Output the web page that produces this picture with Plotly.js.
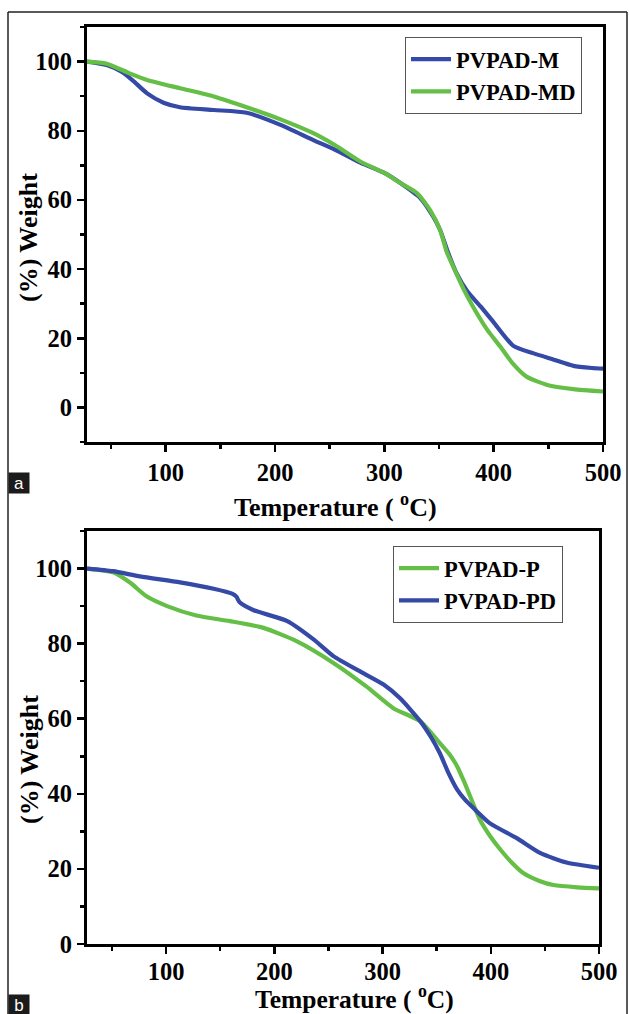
<!DOCTYPE html>
<html>
<head>
<meta charset="utf-8">
<script src="https://cdn.plot.ly/plotly-3.0.1.min.js"></script>
<style>html,body{margin:0;padding:0;background:#fff;}#chart{width:629px;height:1014px;}</style>
</head>
<body>
<div id="chart"></div>
<script>
// Panel a
const tM  = [28, 46, 60, 70, 83, 98, 113, 144, 174, 205, 235, 255, 278, 300, 315, 333, 345, 351, 358, 366, 376, 388, 400, 418, 436, 455, 473, 490, 500];
const wM  = [100, 99, 97, 94.5, 90.8, 88.1, 86.8, 86.0, 85.2, 81.7, 77.3, 74.5, 70.8, 67.8, 64.8, 60.5, 55, 51.3, 45, 38.8, 33.5, 29.2, 24.6, 17.8, 15.7, 13.8, 12.0, 11.4, 11.2];
const tMD = [28, 46, 67, 83, 113, 144, 174, 205, 235, 255, 278, 300, 315, 330, 342, 351, 357, 363, 372, 381, 394, 406, 418, 430, 449, 473, 500];
const wMD = [100, 99.4, 96.6, 94.7, 92.3, 89.9, 86.8, 83.3, 79.3, 75.8, 71.1, 67.8, 64.8, 61.9, 57, 51.3, 45, 40.7, 34.5, 29.2, 22.5, 17.6, 12.5, 8.9, 6.5, 5.3, 4.6];
// Panel b
const tP  = [27, 51, 67, 82, 101, 128, 159, 190, 221, 255, 285, 310, 335, 353, 362, 369, 375, 381, 390, 400, 409, 420, 430, 445, 458, 480, 500];
const wP  = [100, 99.0, 96.2, 92.6, 90.0, 87.5, 86.0, 84.2, 80.6, 74.8, 68.6, 62.8, 59.3, 53.5, 50.5, 47.3, 43.5, 39.3, 33.1, 28.5, 25.1, 21.5, 18.9, 16.8, 15.7, 15.1, 14.8];
const tPD = [27, 51, 76, 113, 144, 161, 165, 168, 181, 212, 236, 255, 278, 301, 316, 335, 345, 353, 361, 369, 376, 384, 399, 424, 446, 470, 500];
const wPD = [100, 99.3, 97.9, 96.3, 94.6, 93.3, 92.5, 91.0, 88.9, 86.0, 81.2, 76.6, 72.8, 69.1, 65.5, 59.3, 55, 50.8, 45.5, 41.1, 38.5, 36.2, 32.2, 28.2, 24.2, 21.7, 20.3];

const names = ['PVPAD-M', 'PVPAD-MD', 'PVPAD-P', 'PVPAD-PD'];
const xTitle = 'Temperature ( <sup>o</sup>C)';
const yTitle = '(%) Weight';
const panelLabels = ['a', 'b'];

const BLUE = '#3549a6', GREEN = '#65bf47';
const W = 629, H = 1014;
const serif = 'Liberation Serif';

function ln(x, y, name, color, xa, ya, leg) {
  return {x: x, y: y, name: name, type: 'scatter', mode: 'lines',
    line: {color: color, width: 4.2, shape: 'spline', smoothing: 0.6},
    xaxis: xa, yaxis: ya, legend: leg};
}

const data = [
  ln(tM, wM, names[0], BLUE, 'x', 'y', 'legend'),
  ln(tMD, wMD, names[1], GREEN, 'x', 'y', 'legend'),
  ln(tP, wP, names[2], GREEN, 'x2', 'y2', 'legend2'),
  ln(tPD, wPD, names[3], BLUE, 'x2', 'y2', 'legend2')
];

const tickFont = {family: serif, size: 24.5, color: '#000', weight: 'bold'};

function xax(domain, range, anchor, standoff) {
  return {domain: domain, range: range, anchor: anchor, showgrid: false, zeroline: false,
    showline: true, linecolor: '#000', linewidth: 3, mirror: true,
    ticks: 'outside', ticklen: 7, tickwidth: 2.5, tickcolor: '#000',
    tick0: 0, dtick: 100, tickfont: tickFont, ticklabelstandoff: standoff,
    minor: {ticks: 'outside', ticklen: 4, tickwidth: 2.5, tickcolor: '#000', dtick: 50}};
}
function yax(domain, range, anchor) {
  return {domain: domain, range: range, anchor: anchor, showgrid: false, zeroline: false,
    showline: true, linecolor: '#000', linewidth: 3, mirror: true,
    ticks: 'outside', ticklen: 7, tickwidth: 2.5, tickcolor: '#000',
    tick0: 0, dtick: 20, tickfont: tickFont,
    minor: {ticks: 'outside', ticklen: 4, tickwidth: 2.5, tickcolor: '#000', dtick: 10}};
}

function titleAnn(text, cx, cy, size, angle) {
  return {text: text, xref: 'paper', yref: 'paper', x: cx / W, y: (H - cy) / H,
    xanchor: 'center', yanchor: 'middle', showarrow: false, textangle: angle,
    font: {family: serif, size: size, color: '#000', weight: 'bold'}};
}
function labelAnn(text, top) {
  return {text: text, xref: 'paper', yref: 'paper', x: 8 / W, y: (H - top) / H, xanchor: 'left', yanchor: 'top',
    showarrow: false, bgcolor: '#1b1b1b', width: 20, height: 20, borderpad: 0,
    font: {family: 'Liberation Sans', size: 17, color: '#fff'}};
}

const legFont = {family: serif, size: 22.5, color: '#000', weight: 'bold'};
const layout = {
  width: W, height: H,
  margin: {l: 0, r: 0, t: 0, b: 0},
  paper_bgcolor: '#fff', plot_bgcolor: '#fff',
  showlegend: true,
  xaxis: xax([87 / W, 603 / W], [28, 500], 'y', 0),
  yaxis: yax([(H - 442) / H, (H - 27) / H], [-10, 110], 'x'),
  xaxis2: xax([87 / W, 599 / W], [27, 500], 'y2', -3),
  yaxis2: yax([(H - 944) / H, (H - 531) / H], [0, 110], 'x2'),
  legend: {x: 405 / W, y: (H - 37) / H, xanchor: 'left', yanchor: 'top',
    bgcolor: 'rgba(255,255,255,0)', bordercolor: '#555', borderwidth: 1,
    font: legFont, tracegroupgap: 0, itemwidth: 40},
  legend2: {x: 393 / W, y: (H - 546) / H, xanchor: 'left', yanchor: 'top',
    bgcolor: 'rgba(255,255,255,0)', bordercolor: '#555', borderwidth: 1,
    font: legFont, tracegroupgap: 0, itemwidth: 40},
  shapes: [
    {type: 'line', xref: 'paper', yref: 'paper', x0: 8 / W, x1: 8 / W, y0: 0, y1: (H - 12) / H, line: {color: '#222', width: 1.5}},
    {type: 'line', xref: 'paper', yref: 'paper', x0: 8 / W, x1: 627 / W, y0: (H - 12) / H, y1: (H - 12) / H, line: {color: '#222', width: 1.5}},
    {type: 'line', xref: 'paper', yref: 'paper', x0: 627 / W, x1: 627 / W, y0: 0, y1: (H - 12) / H, line: {color: '#222', width: 1.5}}
  ],
  annotations: [
    titleAnn(xTitle, 335, 505, 26, 0),
    titleAnn(xTitle, 354, 997, 25.5, 0),
    titleAnn(yTitle, 29, 238, 26, -90),
    titleAnn(yTitle, 29, 760, 26, -90),
    labelAnn(panelLabels[0], 472),
    labelAnn(panelLabels[1], 994)
  ]
};

Plotly.newPlot('chart', data, layout, {displayModeBar: false, staticPlot: true});
</script>
</body>
</html>
